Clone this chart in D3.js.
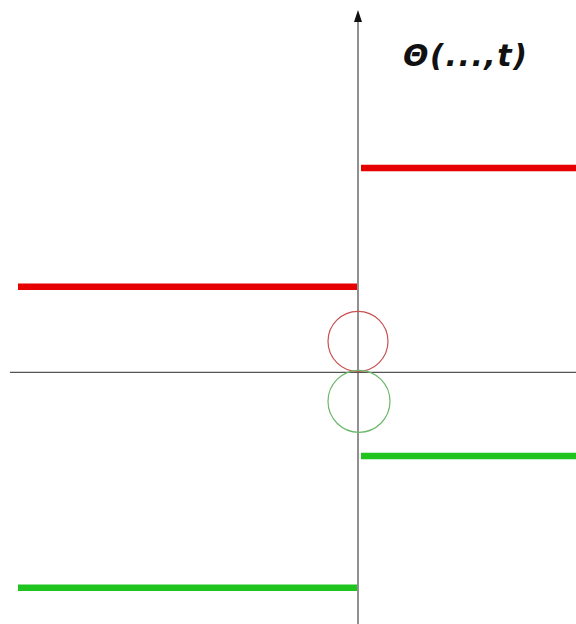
<!DOCTYPE html>
<html>
<head>
<meta charset="utf-8">
<script src="https://cdn.jsdelivr.net/npm/d3@7"></script>
<style>
  html, body { margin: 0; padding: 0; background: #ffffff; }
  svg { display: block; }
</style>
</head>
<body>
<svg id="chart" width="576" height="624"></svg>
<script>
// Step function Θ(...,t): value before and after t = 0 for each branch
const series = ["upper", "lower"];
const leftValues = [0.85, -2.14];   // t < 0
const rightValues = [2.03, -0.83];  // t > 0
const tStart = -1;
const tEnd = 1;
const seriesColors = ["#e60000", "#1fc41f"];
const circleColors = ["#c85050", "#6cb86c"];
const titleText = "Θ(...,t)";

const W = 576, H = 624;
const svg = d3.select("#chart");

const x = d3.scaleLinear().domain([-1, 1]).range([18, 698]);
const y = d3.scaleLinear().domain([-2.5, 3.6]).range([624, 10]);

const x0 = x(0), y0 = y(0);

// axes
svg.append("line")
  .attr("x1", 10).attr("x2", W)
  .attr("y1", y0).attr("y2", y0)
  .attr("stroke", "#555").attr("stroke-width", 1.3);

svg.append("line")
  .attr("x1", x0).attr("x2", x0)
  .attr("y1", H).attr("y2", 20)
  .attr("stroke", "#555").attr("stroke-width", 1.3);

svg.append("path")
  .attr("d", `M${x0},10 L${x0 - 4},22 L${x0 + 4},22 Z`)
  .attr("fill", "#111");

// horizontal segments of the step function
series.forEach((s, i) => {
  svg.append("line")
    .attr("x1", x(tStart)).attr("x2", x0 - 1)
    .attr("y1", y(leftValues[i])).attr("y2", y(leftValues[i]))
    .attr("stroke", seriesColors[i]).attr("stroke-width", 6.5);
  svg.append("line")
    .attr("x1", x0 + 3).attr("x2", x(tEnd))
    .attr("y1", y(rightValues[i])).attr("y2", y(rightValues[i]))
    .attr("stroke", seriesColors[i]).attr("stroke-width", 6.5);
});

// circles touching the origin
const r = 30;
svg.append("circle")
  .attr("cx", x0).attr("cy", y0 - r - 1).attr("r", r)
  .attr("fill", "none").attr("stroke", circleColors[0]).attr("stroke-width", 1.2);
svg.append("circle")
  .attr("cx", x0 + 1).attr("cy", y0 + r - 1).attr("r", r + 1)
  .attr("fill", "none").attr("stroke", circleColors[1]).attr("stroke-width", 1.2);

// title
svg.append("text")
  .attr("x", 403).attr("y", 66)
  .attr("font-family", "DejaVu Sans, Verdana, sans-serif")
  .attr("font-weight", "bold")
  .attr("font-style", "italic")
  .attr("font-size", 30)
  .attr("textLength", 124)
  .attr("lengthAdjust", "spacing")
  .attr("fill", "#111")
  .text(titleText);
</script>
</body>
</html>
